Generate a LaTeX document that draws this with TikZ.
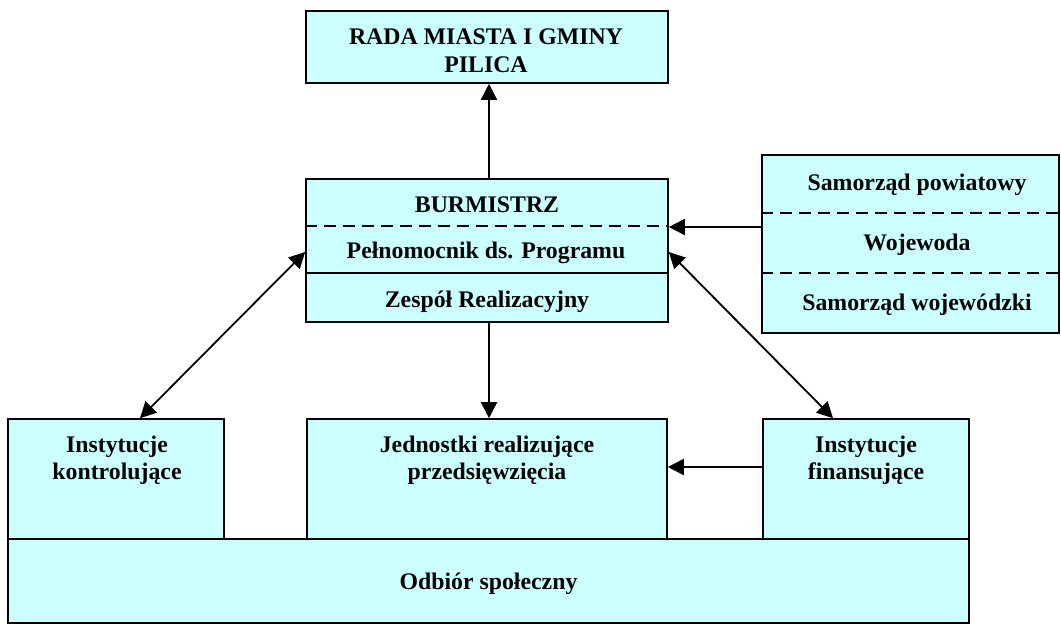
\documentclass[tikz,border=0pt]{standalone}
\usepackage{fontspec}
\setmainfont{Liberation Serif}
\usetikzlibrary{arrows.meta}
\definecolor{boxfill}{RGB}{204,255,255}
\begin{document}
\begin{tikzpicture}[x=1pt,y=-1pt,
  box/.style={draw=black, fill=boxfill, line width=1.6pt, inner sep=0pt, rectangle},
  txt/.style={inner sep=0pt, anchor=base, font=\fontsize{23.8}{27}\selectfont\bfseries},
  divdash/.style={line width=1.6pt, dash pattern=on 12pt off 7pt},
  divline/.style={line width=1.6pt},
  arr/.style={line width=1.8pt, -{Triangle[length=16pt,width=16pt]}},
  darr/.style={line width=1.8pt, {Triangle[length=16pt,width=16pt]}-{Triangle[length=16pt,width=16pt]}}]
\useasboundingbox (0,0) rectangle (1061,626);
% boxes
\node[box, minimum width=362pt, minimum height=72pt] (rada) at (487,47) {};
\node[box, minimum width=362pt, minimum height=143pt] (bur) at (487,250.5) {};
\node[box, minimum width=297pt, minimum height=178pt] (sam) at (910.5,244) {};
\node[box, minimum width=216pt, minimum height=120pt] (kon) at (116,479) {};
\node[box, minimum width=360pt, minimum height=120pt] (jed) at (487,479) {};
\node[box, minimum width=206pt, minimum height=120pt] (fin) at (866,479) {};
\node[box, minimum width=961pt, minimum height=84pt] (odb) at (488.5,581) {};
% dividers
\draw[divdash] ([yshift=-48pt]bur.north west) -- ([yshift=-48pt]bur.north east);
\draw[divline] ([yshift=-95pt]bur.north west) -- ([yshift=-95pt]bur.north east);
\draw[divdash] ([yshift=-59pt]sam.north west) -- ([yshift=-59pt]sam.north east);
\draw[divdash] ([yshift=-119pt]sam.north west) -- ([yshift=-119pt]sam.north east);
% texts
\node[txt] (t1) at (486,45) {RADA MIASTA I GMINY};
\node[txt] (t2) at (486,72.5) {PILICA};
\node[txt] (t3) at (487,212) {BURMISTRZ};
\node[txt] (t4) at (486,258) {Pełnomocnik ds. Programu};
\node[txt] (t5) at (487,307) {Zespół Realizacyjny};
\node[txt] (t6) at (917,190) {Samorząd powiatowy};
\node[txt] (t7) at (917,250) {Wojewoda};
\node[txt] (t8) at (917,310) {Samorząd wojewódzki};
\node[txt] (t9) at (117,452) {Instytucje};
\node[txt] (t10) at (117,479) {kontrolujące};
\node[txt] (t11) at (487,452) {Jednostki realizujące};
\node[txt] (t12) at (487,479) {przedsięwzięcia};
\node[txt] (t13) at (866,452) {Instytucje};
\node[txt] (t14) at (866,479) {finansujące};
\node[txt] (t15) at (488.5,589) {Odbiór społeczny};
% connectors
\draw[arr] ([xshift=2pt]bur.north) -- ([xshift=2pt]rada.south);
\draw[arr] ([yshift=17pt]sam.west) -- ([yshift=23.5pt]bur.east);
\draw[darr] ([xshift=24pt]kon.north) -- ([yshift=-1.5pt]bur.west);
\draw[darr] ([yshift=-1.5pt]bur.east) -- ([xshift=-33pt]fin.north);
\draw[arr] ([xshift=2pt]bur.south) -- ([xshift=2pt]jed.north);
\draw[arr] ([yshift=12pt]fin.west) -- ([yshift=12pt]jed.east);
\end{tikzpicture}
\end{document}
